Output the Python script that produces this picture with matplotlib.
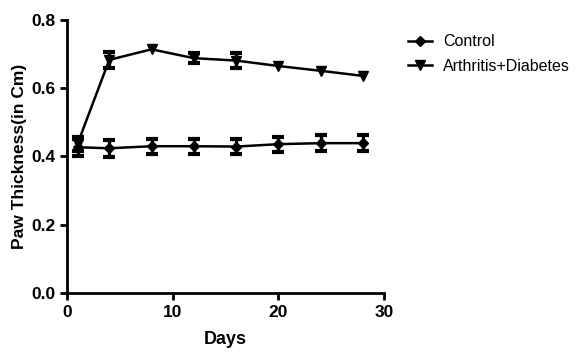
import matplotlib
matplotlib.use("Agg")
import matplotlib.pyplot as plt
from matplotlib.lines import Line2D

plt.rcParams["font.family"] = ["Liberation Sans", "DejaVu Sans"]

nan = float("nan")

# Paw thickness over the study period (mean ± SEM); nan = bar hidden by marker
days = [1, 4, 8, 12, 16, 20, 24, 28]
control = [0.427, 0.424, 0.430, 0.430, 0.429, 0.436, 0.439, 0.439]
control_err = [0.025, 0.025, 0.022, 0.022, 0.022, 0.022, 0.024, 0.024]
arthritis_diabetes = [0.437, 0.683, 0.714, 0.688, 0.681, 0.665, 0.651, 0.636]
arthritis_diabetes_err = [0.020, 0.024, nan, 0.015, 0.022, nan, nan, nan]

x_ticks = [0, 10, 20, 30]
y_ticks = [0.0, 0.2, 0.4, 0.6, 0.8]

fig = plt.figure(figsize=(5.81, 3.56), dpi=100)
ax = fig.add_axes([0.1153, 0.177, 0.5457, 0.767])

bars = dict(color="black", linewidth=1.8, elinewidth=2.4, capsize=4.5, capthick=3)
ax.errorbar(days, control, yerr=control_err, marker="D", markersize=5.5, **bars)
ax.errorbar(days, arthritis_diabetes, yerr=arthritis_diabetes_err, marker="v",
            markersize=7.5, **bars)

ax.set_xlim(0, 30)
ax.set_ylim(0, 0.8)
ax.set_xticks(x_ticks)
ax.set_yticks(y_ticks)
ax.set_yticklabels([f"{v:.1f}" for v in y_ticks])

for side in ("top", "right"):
    ax.spines[side].set_visible(False)
for side in ("left", "bottom"):
    ax.spines[side].set_linewidth(2)
ax.tick_params(width=2, length=5, labelsize=12.5, direction="out")
for lbl in ax.get_xticklabels() + ax.get_yticklabels():
    lbl.set_fontweight("bold")

ax.set_xlabel("Days", fontsize=13, fontweight="bold", labelpad=8)
ax.set_ylabel("Paw Thickness(in Cm)", fontsize=12.5, fontweight="bold", labelpad=3)

# legend shows only line and marker, no error bars
handles = [
    Line2D([], [], color="black", linewidth=1.8, marker="D", markersize=5.5),
    Line2D([], [], color="black", linewidth=1.8, marker="v", markersize=7),
]
ax.legend(handles, ["Control", "Arthritis+Diabetes"], loc="upper left",
          bbox_to_anchor=(1.03, 1.0), frameon=False, fontsize=11.5,
          handlelength=1.5, handletextpad=0.7, labelspacing=0.6)

fig.savefig("out.png", dpi=100)
